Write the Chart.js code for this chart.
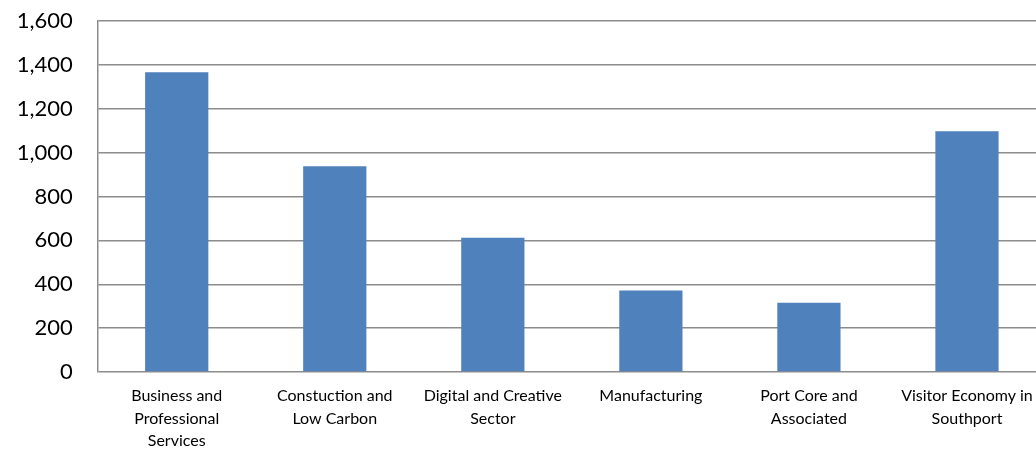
<!DOCTYPE html>
<html>
<head>
<meta charset="utf-8">
<script src="https://cdn.jsdelivr.net/npm/chart.js@4.4.1/dist/chart.umd.min.js"></script>
<style>
  html, body { margin: 0; padding: 0; background: #fff; overflow: hidden; }
  #wrap { width: 1046px; height: 449px; position: relative; }
</style>
</head>
<body>
<div id="wrap"><canvas id="sectors"></canvas></div>
<script>
// sector names, wrapped the way they sit under each bar
const sectors = [
  ['Business and', 'Professional', 'Services'],
  ['Constuction and', 'Low Carbon'],
  ['Digital and Creative', 'Sector'],
  ['Manufacturing'],
  ['Port Core and', 'Associated'],
  ['Visitor Economy in', 'Southport']
];
const jobs = [1366, 938, 612, 372, 316, 1098];
const yTicks = [0, 200, 400, 600, 800, 1000, 1200, 1400, 1600];

const gridGrey = '#8c8c8c';

new Chart(document.getElementById('sectors'), {
  type: 'bar',
  data: {
    labels: sectors,
    datasets: [{
      data: jobs,
      backgroundColor: '#4f81bd',
      borderWidth: 0,
      categoryPercentage: 1,
      barPercentage: 0.4
    }]
  },
  options: {
    responsive: true,
    maintainAspectRatio: false,
    animation: false,
    layout: { padding: { top: 21, right: 0, left: 0, bottom: 0 } },
    plugins: { legend: { display: false }, tooltip: { enabled: false } },
    scales: {
      x: {
        grid: { display: false, drawTicks: false },
        border: { display: false },
        ticks: {
          color: '#000',
          padding: 13,
          maxRotation: 0,
          autoSkip: false,
          font: { family: 'Lato', size: 16, lineHeight: 1.4 }
        },
        afterFit: (scale) => {
          scale.height = 77;
          scale.paddingLeft = 0;
          scale.paddingRight = 0;
        }
      },
      y: {
        min: 0,
        max: 1600,
        afterBuildTicks: (scale) => { scale.ticks = yTicks.map(v => ({ value: v })); },
        grid: { color: gridGrey, lineWidth: 1.5, drawTicks: false },
        border: { display: true, color: gridGrey, width: 1.5 },
        ticks: {
          color: '#000',
          padding: 25,
          font: { family: 'Lato', size: 22 },
          callback: (v) => v.toLocaleString('en-US')
        },
        afterFit: (scale) => {
          scale.width = 97.7;
          scale.paddingTop = 0;
          scale.paddingBottom = 0;
        }
      }
    }
  }
});
</script>
</body>
</html>
